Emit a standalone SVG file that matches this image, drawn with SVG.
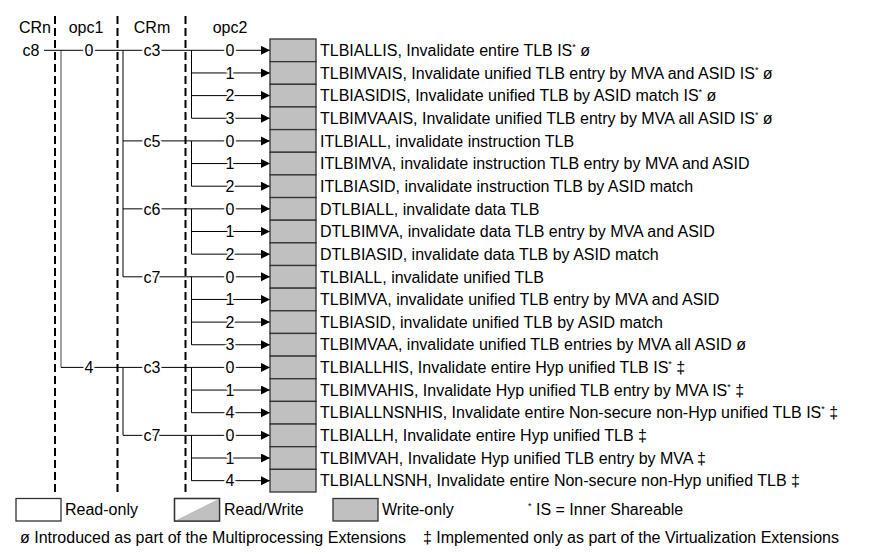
<svg xmlns="http://www.w3.org/2000/svg" width="882" height="560" viewBox="0 0 882 560">
<style>
text{font-family:"Liberation Sans",Arial,sans-serif;font-size:16px;fill:#000}
.lbl{text-anchor:middle;paint-order:stroke;stroke:#fff;stroke-width:4px;stroke-linejoin:round}
.hdr{text-anchor:middle}
.cell{fill:#c0c0c0;stroke:#333;stroke-width:1.3}
.ln{stroke:#000;stroke-width:1;fill:none}
.gl{stroke:#666;stroke-width:1.2;fill:none}
.dash{stroke:#000;stroke-width:2;stroke-dasharray:8 4;fill:none}
.sup{font-size:9px}
</style>
<defs>
<marker id="ah" markerUnits="userSpaceOnUse" markerWidth="10" markerHeight="10" refX="9" refY="4.5" orient="auto">
<path d="M0,0 L9,4.5 L0,9 z" fill="#000"/>
</marker>
</defs>
<g id="headers">
<text class="hdr" x="35" y="33">CRn</text>
<text class="hdr" x="86" y="33">opc1</text>
<text class="hdr" x="152" y="33">CRm</text>
<text class="hdr" x="230" y="33">opc2</text>
</g>
<g id="dividers">
<line class="dash" x1="55" y1="16" x2="55" y2="492"/>
<line class="dash" x1="117.5" y1="16" x2="117.5" y2="492"/>
<line class="dash" x1="185.5" y1="16" x2="185.5" y2="492"/>
</g>
<g id="connectors">
<line class="gl" x1="61" y1="50.3" x2="61" y2="367.4"/>
<line class="ln" x1="123" y1="50.3" x2="123" y2="276.8"/>
<line class="ln" x1="123" y1="367.4" x2="123" y2="435.35"/>
<line class="ln" x1="191.5" y1="50.3" x2="191.5" y2="118.25"/>
<line class="ln" x1="191.5" y1="140.9" x2="191.5" y2="186.2"/>
<line class="ln" x1="191.5" y1="208.85" x2="191.5" y2="254.15"/>
<line class="ln" x1="191.5" y1="276.8" x2="191.5" y2="344.75"/>
<line class="ln" x1="191.5" y1="367.4" x2="191.5" y2="412.7"/>
<line class="ln" x1="191.5" y1="435.35" x2="191.5" y2="480.65"/>
<line class="ln" x1="44" y1="50.3" x2="270" y2="50.3" marker-end="url(#ah)"/>
<line class="ln" x1="191.5" y1="72.95" x2="270" y2="72.95" marker-end="url(#ah)"/>
<line class="ln" x1="191.5" y1="95.6" x2="270" y2="95.6" marker-end="url(#ah)"/>
<line class="ln" x1="191.5" y1="118.25" x2="270" y2="118.25" marker-end="url(#ah)"/>
<line class="ln" x1="123" y1="140.9" x2="270" y2="140.9" marker-end="url(#ah)"/>
<line class="ln" x1="191.5" y1="163.55" x2="270" y2="163.55" marker-end="url(#ah)"/>
<line class="ln" x1="191.5" y1="186.2" x2="270" y2="186.2" marker-end="url(#ah)"/>
<line class="ln" x1="123" y1="208.85" x2="270" y2="208.85" marker-end="url(#ah)"/>
<line class="ln" x1="191.5" y1="231.5" x2="270" y2="231.5" marker-end="url(#ah)"/>
<line class="ln" x1="191.5" y1="254.15" x2="270" y2="254.15" marker-end="url(#ah)"/>
<line class="ln" x1="123" y1="276.8" x2="270" y2="276.8" marker-end="url(#ah)"/>
<line class="ln" x1="191.5" y1="299.45" x2="270" y2="299.45" marker-end="url(#ah)"/>
<line class="ln" x1="191.5" y1="322.1" x2="270" y2="322.1" marker-end="url(#ah)"/>
<line class="ln" x1="191.5" y1="344.75" x2="270" y2="344.75" marker-end="url(#ah)"/>
<line class="ln" x1="61" y1="367.4" x2="270" y2="367.4" marker-end="url(#ah)"/>
<line class="ln" x1="191.5" y1="390.05" x2="270" y2="390.05" marker-end="url(#ah)"/>
<line class="ln" x1="191.5" y1="412.7" x2="270" y2="412.7" marker-end="url(#ah)"/>
<line class="ln" x1="123" y1="435.35" x2="270" y2="435.35" marker-end="url(#ah)"/>
<line class="ln" x1="191.5" y1="458" x2="270" y2="458" marker-end="url(#ah)"/>
<line class="ln" x1="191.5" y1="480.65" x2="270" y2="480.65" marker-end="url(#ah)"/>
<text x="31" y="56" class="hdr">c8</text>
<text class="lbl" x="89" y="56">0</text>
<text class="lbl" x="89" y="373">4</text>
<text class="lbl" x="152" y="56">c3</text>
<text class="lbl" x="152" y="146.6">c5</text>
<text class="lbl" x="152" y="214.5">c6</text>
<text class="lbl" x="152" y="282.5">c7</text>
<text class="lbl" x="152" y="373">c3</text>
<text class="lbl" x="152" y="441">c7</text>
<text class="lbl" x="230" y="56">0</text>
<text class="lbl" x="230" y="78.6">1</text>
<text class="lbl" x="230" y="101.3">2</text>
<text class="lbl" x="230" y="124">3</text>
<text class="lbl" x="230" y="146.6">0</text>
<text class="lbl" x="230" y="169.2">1</text>
<text class="lbl" x="230" y="191.9">2</text>
<text class="lbl" x="230" y="214.5">0</text>
<text class="lbl" x="230" y="237.2">1</text>
<text class="lbl" x="230" y="259.8">2</text>
<text class="lbl" x="230" y="282.5">0</text>
<text class="lbl" x="230" y="305.1">1</text>
<text class="lbl" x="230" y="327.8">2</text>
<text class="lbl" x="230" y="350.4">3</text>
<text class="lbl" x="230" y="373">0</text>
<text class="lbl" x="230" y="395.7">1</text>
<text class="lbl" x="230" y="418.4">4</text>
<text class="lbl" x="230" y="441">0</text>
<text class="lbl" x="230" y="463.7">1</text>
<text class="lbl" x="230" y="486.3">4</text>
</g>
<g id="r0"><rect class="cell" x="270" y="39" width="46" height="22.65"/><text x="320" y="56">TLBIALLIS, Invalidate entire TLB IS<tspan class="sup" dy="-6">*</tspan><tspan dy="6"> ø</tspan></text></g>
<g id="r1"><rect class="cell" x="270" y="61.65" width="46" height="22.65"/><text x="320" y="78.6">TLBIMVAIS, Invalidate unified TLB entry by MVA and ASID IS<tspan class="sup" dy="-6">*</tspan><tspan dy="6"> ø</tspan></text></g>
<g id="r2"><rect class="cell" x="270" y="84.3" width="46" height="22.65"/><text x="320" y="101.3">TLBIASIDIS, Invalidate unified TLB by ASID match IS<tspan class="sup" dy="-6">*</tspan><tspan dy="6"> ø</tspan></text></g>
<g id="r3"><rect class="cell" x="270" y="106.95" width="46" height="22.65"/><text x="320" y="124">TLBIMVAAIS, Invalidate unified TLB entry by MVA all ASID IS<tspan class="sup" dy="-6">*</tspan><tspan dy="6"> ø</tspan></text></g>
<g id="r4"><rect class="cell" x="270" y="129.6" width="46" height="22.65"/><text x="320" y="146.6">ITLBIALL, invalidate instruction TLB</text></g>
<g id="r5"><rect class="cell" x="270" y="152.25" width="46" height="22.65"/><text x="320" y="169.2">ITLBIMVA, invalidate instruction TLB entry by MVA and ASID</text></g>
<g id="r6"><rect class="cell" x="270" y="174.9" width="46" height="22.65"/><text x="320" y="191.9">ITLBIASID, invalidate instruction TLB by ASID match</text></g>
<g id="r7"><rect class="cell" x="270" y="197.55" width="46" height="22.65"/><text x="320" y="214.5">DTLBIALL, invalidate data TLB</text></g>
<g id="r8"><rect class="cell" x="270" y="220.2" width="46" height="22.65"/><text x="320" y="237.2">DTLBIMVA, invalidate data TLB entry by MVA and ASID</text></g>
<g id="r9"><rect class="cell" x="270" y="242.85" width="46" height="22.65"/><text x="320" y="259.8">DTLBIASID, invalidate data TLB by ASID match</text></g>
<g id="r10"><rect class="cell" x="270" y="265.5" width="46" height="22.65"/><text x="320" y="282.5">TLBIALL, invalidate unified TLB</text></g>
<g id="r11"><rect class="cell" x="270" y="288.15" width="46" height="22.65"/><text x="320" y="305.1">TLBIMVA, invalidate unified TLB entry by MVA and ASID</text></g>
<g id="r12"><rect class="cell" x="270" y="310.8" width="46" height="22.65"/><text x="320" y="327.8">TLBIASID, invalidate unified TLB by ASID match</text></g>
<g id="r13"><rect class="cell" x="270" y="333.45" width="46" height="22.65"/><text x="320" y="350.4">TLBIMVAA, invalidate unified TLB entries by MVA all ASID ø</text></g>
<g id="r14"><rect class="cell" x="270" y="356.1" width="46" height="22.65"/><text x="320" y="373">TLBIALLHIS, Invalidate entire Hyp unified TLB IS<tspan class="sup" dy="-6">*</tspan><tspan dy="6"> ‡</tspan></text></g>
<g id="r15"><rect class="cell" x="270" y="378.75" width="46" height="22.65"/><text x="320" y="395.7">TLBIMVAHIS, Invalidate Hyp unified TLB entry by MVA IS<tspan class="sup" dy="-6">*</tspan><tspan dy="6"> ‡</tspan></text></g>
<g id="r16"><rect class="cell" x="270" y="401.4" width="46" height="22.65"/><text x="320" y="418.4">TLBIALLNSNHIS, Invalidate entire Non-secure non-Hyp unified TLB IS<tspan class="sup" dy="-6">*</tspan><tspan dy="6"> ‡</tspan></text></g>
<g id="r17"><rect class="cell" x="270" y="424.05" width="46" height="22.65"/><text x="320" y="441">TLBIALLH, Invalidate entire Hyp unified TLB ‡</text></g>
<g id="r18"><rect class="cell" x="270" y="446.7" width="46" height="22.65"/><text x="320" y="463.7">TLBIMVAH, Invalidate Hyp unified TLB entry by MVA ‡</text></g>
<g id="r19"><rect class="cell" x="270" y="469.35" width="46" height="22.65"/><text x="320" y="486.3">TLBIALLNSNH, Invalidate entire Non-secure non-Hyp unified TLB ‡</text></g>
<g id="legend">
<rect x="16" y="498.5" width="45" height="22.5" fill="#fff" stroke="#333" stroke-width="1.3"/>
<text x="65" y="515">Read-only</text>
<rect x="174.5" y="498.5" width="45" height="22.5" fill="#fff" stroke="#333" stroke-width="1.3"/>
<path d="M174.5,521 L219.5,498.5 L219.5,521 z" fill="#c0c0c0"/>
<rect x="174.5" y="498.5" width="45" height="22.5" fill="none" stroke="#333" stroke-width="1.3"/>
<text x="224" y="515">Read/Write</text>
<rect x="333" y="498.5" width="45" height="22.5" class="cell"/>
<text x="382" y="515">Write-only</text>
<text x="528" y="515"><tspan class="sup" dy="-6">*</tspan><tspan dy="6"> IS = Inner Shareable</tspan></text>
<text x="20" y="543">ø Introduced as part of the Multiprocessing Extensions</text>
<text x="423" y="543">‡ Implemented only as part of the Virtualization Extensions</text>
</g>
</svg>
